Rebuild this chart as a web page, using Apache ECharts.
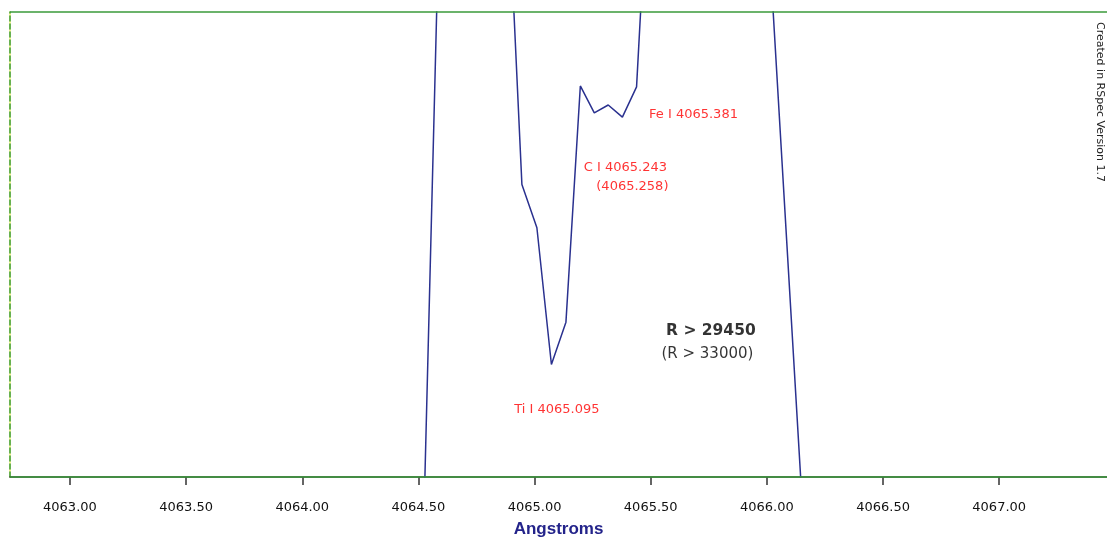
<!DOCTYPE html>
<html>
<head>
<meta charset="utf-8">
<style>
  html, body { margin: 0; padding: 0; background: #ffffff; }
  #chart { width: 1107px; height: 543px; }
</style>
<script src="https://cdn.jsdelivr.net/npm/echarts@6/dist/echarts.min.js"></script>
</head>
<body>
<div id="chart"></div>
<script>
// ---- data ----
const wavelengths = [4064.515, 4064.582, 4064.884, 4064.9455, 4065.010, 4065.0725, 4065.135, 4065.197, 4065.257, 4065.317, 4065.378, 4065.439, 4065.501, 4065.993, 4066.178];
const intensity   = [-25.6, 106.8, 129.2, 62.9, 53.6, 24.2, 33.3, 84.1, 78.3, 80.0, 77.4, 83.9, 141.4, 128.8, -27.7];
const tickValues  = [4063.0, 4063.5, 4064.0, 4064.5, 4065.0, 4065.5, 4066.0, 4066.5, 4067.0];
const xRange      = [4062.742, 4067.464];
const yRange      = [0, 100];

const lineLabels  = ['Fe I 4065.381', 'C I 4065.243', '(4065.258)', 'Ti I 4065.095'];
const lineLabelAt = [[4065.684, 77.9], [4065.391, 66.5], [4065.421, 62.4], [4065.096, 14.4]];
const resLabels   = ['R > 29450', '(R > 33000)'];
const resLabelAt  = [[4065.759, 31.5], [4065.744, 26.4]];

const spectrum = wavelengths.map((w, i) => [w, intensity[i]]);

const chart = echarts.init(document.getElementById('chart'), null, { renderer: 'canvas' });

const option = {
  animation: false,
  backgroundColor: '#ffffff',
  grid: { left: 10, right: 0, top: 12, bottom: 65, containLabel: false },
  xAxis: {
    type: 'value',
    min: xRange[0],
    max: xRange[1],
    offset: 9,
    name: 'Angstroms',
    nameLocation: 'middle',
    nameGap: 35,
    nameTextStyle: { fontFamily: 'Liberation Sans', fontWeight: 'bold', fontSize: 17, color: '#23238a' },
    axisLine: { show: true, lineStyle: { color: '#333333', width: 1.5 } },
    axisTick: { show: true, length: 8, lineStyle: { color: '#333333', width: 1.5 }, customValues: tickValues },
    axisLabel: {
      show: true, margin: 15, color: '#111111', fontFamily: 'DejaVu Sans', fontSize: 13,
      customValues: tickValues,
      formatter: v => Number(v).toFixed(2)
    },
    splitLine: { show: false }
  },
  yAxis: [
    {
      type: 'value', min: yRange[0], max: yRange[1],
      axisLine: { show: true, lineStyle: { color: '#f2f27a', width: 1.5 } },
      axisTick: { show: false }, axisLabel: { show: false }, splitLine: { show: false }
    },
    {
      type: 'value', min: yRange[0], max: yRange[1], position: 'left',
      axisLine: { show: true, lineStyle: { color: '#3a9a3a', width: 1.5, type: [5, 3] } },
      axisTick: { show: false }, axisLabel: { show: false }, splitLine: { show: false }
    }
  ],
  series: [
    {
      type: 'line',
      data: spectrum,
      clip: true,
      symbol: 'none',
      lineStyle: { color: '#2a318f', width: 1.5 },
      silent: true,
      markLine: {
        silent: true,
        symbol: 'none',
        label: { show: false },
        lineStyle: { color: '#3a9a3a', width: 1.6, type: 'solid' },
        data: [{ yAxis: yRange[0] }, { yAxis: yRange[1] }]
      }
    },
    {
      type: 'scatter',
      symbolSize: 0.1,
      itemStyle: { color: 'transparent' },
      silent: true,
      data: lineLabels.map((t, i) => ({ name: t, value: lineLabelAt[i] })),
      label: {
        show: true, position: 'inside', formatter: p => p.name,
        color: '#ff0000', fontFamily: 'DejaVu Sans', fontSize: 13
      }
    },
    {
      type: 'scatter',
      symbolSize: 0.1,
      itemStyle: { color: 'transparent' },
      silent: true,
      data: resLabels.map((t, i) => ({
        name: t, value: resLabelAt[i],
        label: i === 0 ? { fontWeight: 'bold', fontSize: 15.5 } : { fontWeight: 'normal', fontSize: 15 }
      })),
      label: {
        show: true, position: 'inside', formatter: p => p.name,
        color: '#000000', fontFamily: 'DejaVu Sans'
      }
    }
  ],
  graphic: [
    {
      type: 'text',
      x: 1100, y: 102,
      rotation: -Math.PI / 2,
      silent: true,
      style: {
        text: 'Created in RSpec Version 1.7',
        fontFamily: 'DejaVu Sans', fontSize: 11, fill: '#222222',
        align: 'center', verticalAlign: 'middle'
      }
    }
  ]
};

chart.setOption(option);
</script>
</body>
</html>
